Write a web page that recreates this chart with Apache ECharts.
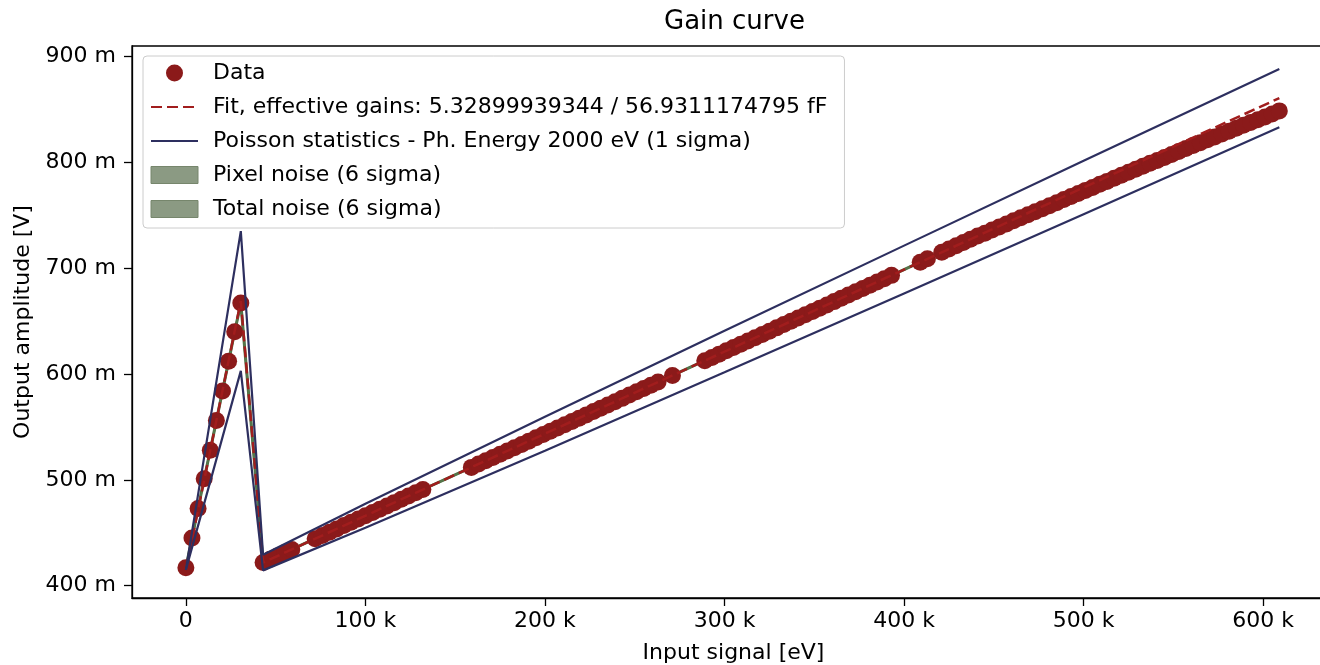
<!DOCTYPE html>
<html>
<head>
<meta charset="utf-8">
<title>Gain curve</title>
<script src="https://cdn.jsdelivr.net/npm/echarts@6/dist/echarts.min.js"></script>
<style>
  html, body { margin: 0; padding: 0; background: #fff; }
  #chart { width: 1320px; height: 665px; }
</style>
</head>
<body>
<div id="chart"></div>
<script>
// tick positions
const xTicks = [0, 100000, 200000, 300000, 400000, 500000, 600000]
const yTicks = [400, 500, 600, 700, 800, 900]

// measured points (input signal in eV, output amplitude in mV)
const dataX = [
  0, 3400, 6800, 10200, 13600, 17000, 20400, 23800, 27200, 30600,
  43000, 47000, 51000, 55000, 59000,
  72000, 76000, 80000, 84000, 88000, 92000, 96000, 100000, 104000, 108000,
  112000, 116000, 120000, 124000, 128000, 132000,
  159000, 163000, 167000, 171000, 175000, 179000, 183000, 187000, 191000, 195000,
  199000, 203000, 207000, 211000, 215000, 219000, 223000, 227000, 231000, 235000,
  239000, 243000, 247000, 251000, 255000, 259000, 263000,
  271000,
  289000, 293000, 297000, 301000, 305000, 309000, 313000, 317000, 321000, 325000,
  329000, 333000, 337000, 341000, 345000, 349000, 353000, 357000, 361000, 365000,
  369000, 373000, 377000, 381000, 385000, 389000, 393000,
  409000, 413000,
  421000, 425000, 429000, 433000, 437000, 441000, 445000, 449000, 453000, 457000,
  461000, 465000, 469000, 473000, 477000, 481000, 485000, 489000, 493000, 497000,
  501000, 505000, 509000, 513000, 517000, 521000, 525000, 529000, 533000, 537000,
  541000, 545000, 549000, 553000, 557000, 561000, 565000, 569000, 573000, 577000,
  581000, 585000, 589000, 593000, 597000, 601000, 605000, 609000
]
const dataY = [
  417, 445, 473, 501, 528, 556, 584, 612, 640, 667,
  421.9, 425.0, 428.1, 431.2, 434.3,
  444.4, 447.5, 450.6, 453.7, 456.8, 459.9, 463.0, 466.1, 469.2, 472.3,
  475.4, 478.5, 481.6, 484.7, 487.8, 490.9,
  511.8, 514.9, 518.0, 521.1, 524.2, 527.3, 530.4, 533.5, 536.6, 539.7,
  542.8, 545.9, 549.0, 552.1, 555.2, 558.3, 561.4, 564.6, 567.7, 570.8,
  573.9, 577.0, 580.1, 583.2, 586.3, 589.4, 592.5,
  598.7,
  612.6, 615.7, 618.8, 621.9, 625.0, 628.1, 631.2, 634.3, 637.4, 640.5,
  643.6, 646.7, 649.8, 652.9, 656.0, 659.1, 662.2, 665.3, 668.4, 671.5,
  674.6, 677.7, 680.8, 683.9, 687.0, 690.1, 693.2,
  705.7, 708.8,
  715.0, 718.1, 721.2, 724.3, 727.4, 730.5, 733.1, 736.0, 739.0, 741.8,
  744.7, 747.6, 750.5, 753.4, 756.2, 759.0, 761.9, 764.8, 767.8, 770.6,
  773.5, 776.3, 779.2, 782.0, 785.0, 787.8, 790.6, 793.4, 796.3, 799.2,
  801.8, 804.6, 807.4, 810.2, 813.0, 815.8, 818.6, 821.3, 824.0, 826.7,
  829.4, 832.2, 835.0, 837.6, 840.2, 842.9, 845.7, 848.6
]

// fit
const fitX = [0, 30600, 43000, 609000]
const fitY = [415, 669, 421.9, 860.7]

// poisson statistics band (1 sigma)
const poisX = [0, 30600, 43000, 100000, 200000, 300000, 400000, 500000, 609000]
const poisUpper = [415, 735, 429.3, 477.4, 559.6, 640.8, 721.3, 801.4, 888.2]
const poisLower = [415, 603, 414.5, 454.8, 527.6, 601.6, 676.1, 751.0, 833.2]

const zip = (xs, ys) => xs.map((x, i) => [x, ys[i]])

const FONT = 'DejaVu Sans'
const POIS_NAME = 'Poisson statistics - Ph. Energy 2000 eV (1 sigma)'
const FIT_NAME = 'Fit, effective gains: 5.32899939344 / 56.9311174795 fF'
// hides the symbol echarts puts in the middle of a line legend icon
const noSymbol = { color: 'rgba(0,0,0,0)', borderWidth: 0, opacity: 0 }
const patch = { color: '#8b9a83', borderColor: '#76866c', borderWidth: 1 }

const chart = echarts.init(document.getElementById('chart'))
chart.setOption({
  animation: false,
  backgroundColor: '#fff',
  title: {
    text: 'Gain curve',
    left: 659,
    top: 4,
    textStyle: { fontFamily: FONT, fontSize: 26, fontWeight: 'normal', color: '#000' }
  },
  legend: {
    orient: 'vertical',
    left: 143,
    top: 56,
    padding: [6, 17, 8, 7],
    itemWidth: 47,
    itemHeight: 17,
    itemGap: 12,
    selectedMode: false,
    backgroundColor: 'rgba(255,255,255,0.8)',
    borderColor: '#cccccc',
    borderWidth: 1,
    borderRadius: 4,
    textStyle: { fontFamily: FONT, fontSize: 22, color: '#000', padding: [0, 0, 0, 10] },
    data: [
      { name: 'Data', icon: 'circle' },
      { name: FIT_NAME, itemStyle: noSymbol },
      { name: POIS_NAME, itemStyle: noSymbol },
      { name: 'Pixel noise (6 sigma)', icon: 'rect', itemStyle: patch },
      { name: 'Total noise (6 sigma)', icon: 'rect', itemStyle: patch }
    ]
  },
  grid: {
    left: 132,
    top: 46,
    width: 1203,
    height: 552,
    outerBoundsMode: 'none',
    show: true,
    borderColor: '#000',
    borderWidth: 1.3
  },
  xAxis: {
    type: 'value',
    min: -30000,
    max: 640000,
    name: 'Input signal [eV]',
    nameLocation: 'middle',
    nameGap: 44,
    nameTextStyle: { fontFamily: FONT, fontSize: 22, color: '#000' },
    axisLine: { show: true, onZero: false, lineStyle: { color: '#000', width: 1.3 } },
    axisTick: { show: true, length: 8, customValues: xTicks, lineStyle: { color: '#000', width: 1.3 } },
    axisLabel: {
      customValues: xTicks,
      margin: 12,
      fontFamily: FONT,
      fontSize: 22,
      color: '#000',
      formatter: v => (v === 0 ? '0' : v / 1000 + ' k')
    },
    splitLine: { show: false }
  },
  yAxis: {
    type: 'value',
    min: 388.4,
    max: 909.9,
    name: 'Output amplitude [V]',
    nameLocation: 'middle',
    nameGap: 98,
    nameTextStyle: { fontFamily: FONT, fontSize: 22, color: '#000' },
    axisLine: { show: true, onZero: false, lineStyle: { color: '#000', width: 1.3 } },
    axisTick: { show: true, length: 8, customValues: yTicks, lineStyle: { color: '#000', width: 1.3 } },
    axisLabel: {
      customValues: yTicks,
      margin: 16,
      fontFamily: FONT,
      fontSize: 22,
      color: '#000',
      formatter: v => v + ' m'
    },
    splitLine: { show: false }
  },
  series: [
    {
      name: 'Pixel noise (6 sigma)',
      type: 'line',
      data: zip(dataX, dataY),
      symbol: 'none',
      z: 1,
      itemStyle: { color: '#8b9a83' },
      lineStyle: { color: '#4e6e44', width: 3 }
    },
    {
      name: 'Total noise (6 sigma)',
      type: 'line',
      data: zip(dataX, dataY),
      symbol: 'none',
      z: 1,
      itemStyle: { color: '#8b9a83' },
      lineStyle: { color: '#56764a', width: 2 }
    },
    {
      name: 'Data',
      type: 'scatter',
      data: zip(dataX, dataY),
      symbol: 'circle',
      symbolSize: 17,
      z: 2,
      itemStyle: { color: '#8b1a1a', opacity: 1 }
    },
    {
      name: FIT_NAME,
      type: 'line',
      data: zip(fitX, fitY),
      symbol: 'none',
      z: 3,
      itemStyle: { color: '#a11d1d' },
      lineStyle: { color: '#a11d1d', width: 2.5, type: [11, 5] }
    },
    {
      name: POIS_NAME,
      type: 'line',
      data: zip(poisX, poisUpper),
      symbol: 'none',
      z: 4,
      itemStyle: { color: '#2d2f5f' },
      lineStyle: { color: '#2d2f5f', width: 2.2 }
    },
    {
      name: POIS_NAME,
      type: 'line',
      data: zip(poisX, poisLower),
      symbol: 'none',
      z: 4,
      itemStyle: { color: '#2d2f5f' },
      lineStyle: { color: '#2d2f5f', width: 2.2 }
    }
  ]
})
</script>
</body>
</html>
